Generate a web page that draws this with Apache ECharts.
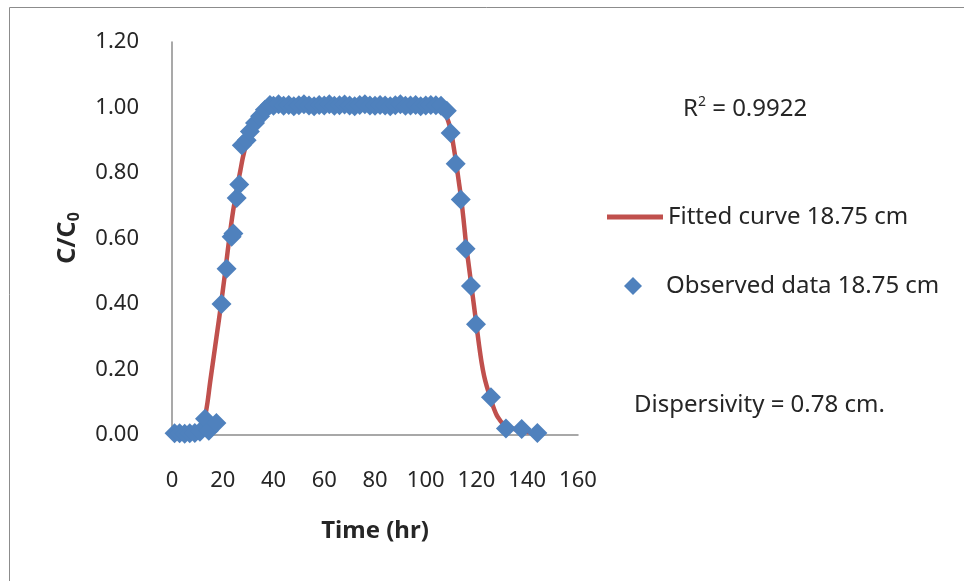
<!DOCTYPE html>
<html>
<head>
<meta charset="utf-8">
<script src="https://cdn.jsdelivr.net/npm/echarts@6/dist/echarts.min.js"></script>
<style>
html,body{margin:0;padding:0;background:#fff;}
#chart{width:964px;height:581px;}
</style>
</head>
<body>
<div id="chart"></div>
<script>
// Observed data (time in hr, C/C0)
var obsTime = [1, 3, 5, 7, 9, 11, 13, 14.5, 17.5, 19.5, 21.5, 23.5, 24.2, 25.5, 26.5, 27.5, 29.4, 30.7, 32.7, 34.7, 36.6,
  38.6, 40, 42, 44, 46, 48, 50, 52, 54, 56, 58, 60, 62, 64, 66, 68, 70, 72, 74, 76, 78, 80, 82, 84, 86, 88, 90, 92, 94, 96, 98, 100, 102, 104, 106, 108.3,
  109.8, 111.8, 113.8, 115.7, 117.8, 119.8, 125.7, 131.6, 137.8, 144];
var obsValue = [0.005, 0.005, 0.004, 0.005, 0.006, 0.01, 0.05, 0.013, 0.037, 0.40, 0.508, 0.605, 0.615, 0.724, 0.765, 0.885, 0.90, 0.927, 0.953, 0.973, 0.993,
  1.008, 1.005, 1.01, 1.005, 1.008, 1.004, 1.007, 1.01, 1.006, 1.004, 1.008, 1.006, 1.01, 1.005, 1.007, 1.009, 1.006, 1.004, 1.008, 1.01, 1.006, 1.005, 1.008, 1.006, 1.004, 1.007, 1.01, 1.005, 1.006, 1.008, 1.004, 1.006, 1.008, 1.007, 1.005, 0.99,
  0.922, 0.828, 0.719, 0.569, 0.455, 0.338, 0.115, 0.02, 0.018, 0.006];

// Fitted curve
var fitTime = [0, 5, 10, 11, 12, 13, 14, 15, 16, 17, 18, 19, 20, 21, 22, 23, 24, 25, 26, 27, 28, 30, 32, 34, 36, 38, 40, 60, 80, 100, 104,
  106, 107, 108, 109, 110, 111, 112, 113, 114, 115, 116, 117, 118, 119, 120, 121, 122, 123, 124, 125, 126, 127, 128, 129, 130, 132, 134, 136, 138, 140, 142, 144];
var fitValue = [0, 0, 0, 0.008, 0.025, 0.055, 0.10, 0.16, 0.215, 0.27, 0.325, 0.38, 0.44, 0.50, 0.565, 0.625, 0.68, 0.725, 0.77, 0.81, 0.85, 0.91, 0.95, 0.975, 0.99, 0.997, 1.0, 1.0, 1.0, 1.0, 1.0,
  0.998, 0.99, 0.975, 0.955, 0.925, 0.88, 0.83, 0.775, 0.72, 0.65, 0.575, 0.515, 0.455, 0.395, 0.335, 0.275, 0.222, 0.18, 0.15, 0.125, 0.10, 0.078, 0.06, 0.048, 0.038, 0.028, 0.02, 0.016, 0.012, 0.009, 0.007, 0.005];

var xTicks = {min: 0, max: 160, interval: 20};
var yTicks = {min: 0, max: 1.2, interval: 0.2};

var fitName = 'Fitted curve 18.75 cm';
var obsName = 'Observed data 18.75 cm';
var r2Text = '0.9922';
var dispText = 'Dispersivity = 0.78 cm.';

var FONT = '"Noto Sans", "DejaVu Sans", sans-serif';
var TXT = '#262626';
var AX = '#8c8c8c';
var RED = '#C0504D';
var BLUE = '#4F81BD';

function zip(a, b) { var r = []; for (var i = 0; i < a.length; i++) r.push([a[i], b[i]]); return r; }

var chart = echarts.init(document.getElementById('chart'), null, {renderer: 'canvas'});
chart.setOption({
  animation: false,
  backgroundColor: '#fff',
  grid: {left: 172, top: 42, width: 406, height: 393, containLabel: false},
  xAxis: {
    type: 'value', min: xTicks.min, max: xTicks.max, interval: xTicks.interval,
    axisLine: {show: true, onZero: false, lineStyle: {color: AX, width: 1.5}},
    axisTick: {show: false},
    splitLine: {show: false},
    axisLabel: {margin: 35, color: TXT, fontSize: 22, fontFamily: FONT},
    name: 'Time (hr)', nameLocation: 'middle', nameGap: 84,
    nameTextStyle: {color: TXT, fontSize: 24, fontWeight: 'bold', fontFamily: FONT}
  },
  yAxis: {
    type: 'value', min: yTicks.min, max: yTicks.max, interval: yTicks.interval,
    axisLine: {show: true, lineStyle: {color: AX, width: 1.5}},
    axisTick: {show: false},
    splitLine: {show: false},
    axisLabel: {margin: 33, color: TXT, fontSize: 22, fontFamily: FONT,
      formatter: function (v) { return v.toFixed(2); }}
  },
  legend: [
    {data: [{name: fitName, icon: 'rect', itemStyle: {color: RED}}], orient: 'vertical', left: 607, top: 205, padding: 0,
      itemWidth: 56, itemHeight: 5, symbolKeepAspect: false,
      textStyle: {color: TXT, fontSize: 24, fontFamily: FONT}, selectedMode: false},
    {data: [{name: obsName, icon: 'diamond', itemStyle: {color: BLUE, opacity: 1}}], orient: 'vertical', left: 624, top: 274, padding: 0,
      itemWidth: 18, itemHeight: 18,
      textStyle: {color: TXT, fontSize: 24, fontFamily: FONT, padding: [0, 0, 0, 19]}, selectedMode: false}
  ],
  series: [
    {name: fitName, type: 'line', data: zip(fitTime, fitValue), symbol: 'none', smooth: 0.3,
      lineStyle: {color: RED, width: 4.5}, itemStyle: {color: RED}, z: 2},
    {name: obsName, type: 'scatter', data: zip(obsTime, obsValue), symbol: 'diamond', symbolSize: 20,
      itemStyle: {color: BLUE, opacity: 1}, z: 3}
  ],
  graphic: [
    {type: 'polyline', shape: {points: [[9.5, 581], [9.5, 7.5], [964, 7.5]]}, style: {stroke: '#8c8c8c', lineWidth: 1, fill: null}},
    {type: 'text', x: 68, y: 238, rotation: Math.PI / 2,
      style: {text: '{a|C/C}{b|0}', align: 'center', verticalAlign: 'middle',
        rich: {a: {fontSize: 25, fontWeight: 'bold', fontFamily: FONT, fill: TXT, lineHeight: 28},
               b: {fontSize: 16, fontWeight: 'bold', fontFamily: FONT, fill: TXT, verticalAlign: 'bottom', lineHeight: 19}}}},
    {type: 'text', x: 683, y: 109,
      style: {text: '{a|R}{s|2}{a| = ' + r2Text + '}', align: 'left', verticalAlign: 'middle',
        rich: {a: {fontSize: 24, fontFamily: FONT, fill: TXT, lineHeight: 28},
               s: {fontSize: 14, fontFamily: FONT, fill: TXT, verticalAlign: 'top', lineHeight: 14}}}},
    {type: 'text', x: 634, y: 405,
      style: {text: dispText, align: 'left', verticalAlign: 'middle', fontSize: 24, fontFamily: FONT, fill: TXT}}
  ]
});
</script>
</body>
</html>
